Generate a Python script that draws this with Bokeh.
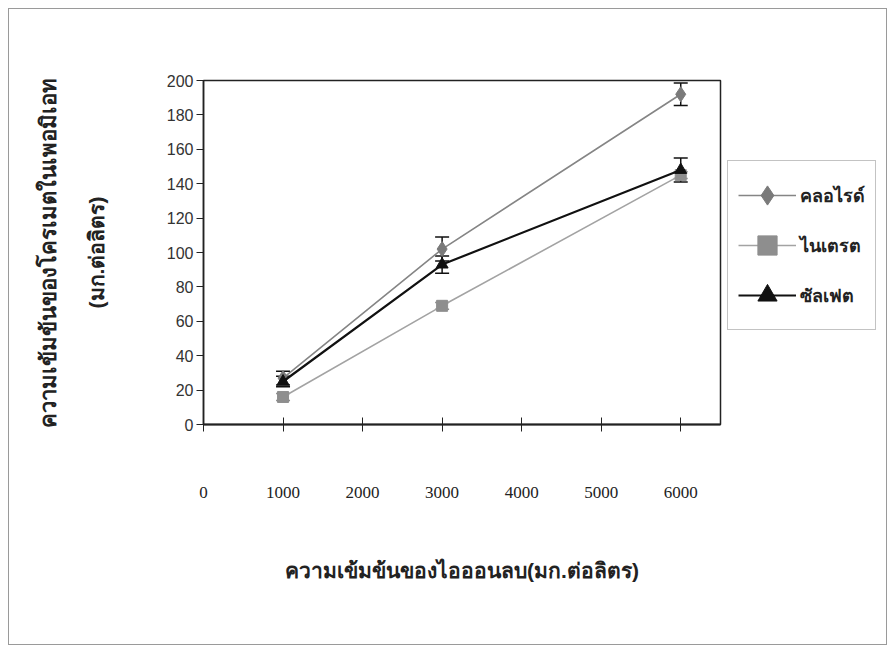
from bokeh.plotting import figure
from bokeh.layouts import row
from bokeh.models import (ColumnDataSource, Whisker, TeeHead, Legend, LegendItem,
                          LinearAxis, FixedTicker, Range1d)
from bokeh.embed import file_html
from bokeh.resources import INLINE

# ---- data ----
conc = [1000, 3000, 6000]
chloride = [27, 102, 192]
chloride_err = [4, 7, 6.5]
nitrate = [16, 69, 145]
nitrate_err = [2, 2, 2]
sulfate = [25, 93, 148]
sulfate_err = [3, 5, 7]
series_names = ["คลอไรด์", "ไนเตรต", "ซัลเฟต"]
x_ticks = [0, 1000, 2000, 3000, 4000, 5000, 6000]
y_ticks = [0, 20, 40, 60, 80, 100, 120, 140, 160, 180, 200]
x_title = "ความเข้มข้นของไอออนลบ(มก.ต่อลิตร)"
y_title_1 = "ความเข้มข้นของโครเมตในเพอมิเอท"
y_title_2 = "(มก.ต่อลิตร)"

THAI = "sans-serif"

p = figure(width=713, height=635, x_range=Range1d(0, 6500), y_range=Range1d(0, 200),
           output_backend="svg", toolbar_location=None,
           min_border_left=194, min_border_right=2, min_border_top=71, min_border_bottom=220)
p.background_fill_color = "white"
p.border_fill_color = "white"
p.outline_line_color = "#222222"
p.outline_line_width = 1.5
p.xgrid.visible = False
p.ygrid.visible = False

# x axis
xa = p.xaxis[0]
xa.ticker = FixedTicker(ticks=x_ticks)
xa.major_tick_in = 7
xa.major_tick_out = 7
xa.minor_tick_line_color = None
xa.major_label_standoff = 55
xa.major_label_text_font = "serif"
xa.major_label_text_font_size = "17px"
xa.major_label_text_color = "#222222"
xa.axis_line_width = 2
xa.axis_line_color = "#222222"
xa.major_tick_line_color = "#222222"
xa.axis_label = x_title
xa.axis_label_standoff = 58
xa.axis_label_text_font = THAI
xa.axis_label_text_font_size = "21px"
xa.axis_label_text_font_style = "bold"
xa.axis_label_text_color = "#222222"

# y axis
ya = p.yaxis[0]
ya.ticker = FixedTicker(ticks=y_ticks)
ya.major_tick_in = 0
ya.major_tick_out = 7
ya.minor_tick_line_color = None
ya.major_label_standoff = 3
ya.major_label_text_font = "'Liberation Sans', Arial, sans-serif"
ya.major_label_text_font_size = "16px"
ya.major_label_text_color = "#333333"
ya.axis_line_color = "#222222"
ya.axis_line_width = 1.5
ya.major_tick_line_color = "#222222"
ya.axis_label = y_title_2
ya.axis_label_standoff = 56
ya.axis_label_text_font = THAI
ya.axis_label_text_font_size = "21px"
ya.axis_label_text_font_style = "bold"
ya.axis_label_text_color = "#222222"

ya2 = LinearAxis(ticker=FixedTicker(ticks=[]), axis_line_color=None,
                 major_tick_out=0, major_tick_in=0, minor_tick_out=0, minor_tick_in=0,
                 major_label_standoff=0, axis_label=y_title_1, axis_label_standoff=21,
                 axis_label_text_font=THAI, axis_label_text_font_size="22px",
                 axis_label_text_font_style="bold", axis_label_text_color="#222222")
p.add_layout(ya2, "left")

# legend-only figure to the right of the plot frame (its frame aligns with p's frame)
pl = figure(width=164, height=635, x_range=Range1d(0, 1), y_range=Range1d(0, 1),
            output_backend="svg", toolbar_location=None,
            min_border_left=0, min_border_right=0, min_border_top=0, min_border_bottom=0)
pl.axis.visible = False
pl.xgrid.visible = False
pl.ygrid.visible = False
pl.outline_line_color = None
pl.background_fill_color = "white"
pl.border_fill_color = "white"

# series
specs = [
    (chloride, chloride_err, "#858585", 1.6, "diamond", 15, "#7a7a7a", "#111111"),
    (nitrate, nitrate_err, "#a3a3a3", 1.6, "square", 11, "#8e8e8e", "#8e8e8e"),
    (sulfate, sulfate_err, "#111111", 2.2, "triangle", 12, "#111111", "#111111"),
]
items = []
for (vals, errs, lc, lw, mk, ms, mc, ec), name in zip(specs, series_names):
    src = ColumnDataSource(dict(x=conc, y=vals,
                                lo=[v - e for v, e in zip(vals, errs)],
                                hi=[v + e for v, e in zip(vals, errs)]))
    p.line("x", "y", source=src, line_color=lc, line_width=lw)
    p.scatter("x", "y", source=src, marker=mk, size=ms, fill_color=mc, line_color=mc)
    w = Whisker(base="x", lower="lo", upper="hi", source=src, line_color=ec, line_width=1.5,
                upper_head=TeeHead(size=14, line_color=ec, line_width=1.5),
                lower_head=TeeHead(size=14, line_color=ec, line_width=1.5))
    p.add_layout(w)
    # legend proxies: same data, but far outside the legend figure's 0..1 ranges (invisible)
    ln2 = pl.line("x", "y", source=src, line_color=lc, line_width=lw)
    sc2 = pl.scatter("x", "y", source=src, marker=mk, size=ms - 4, fill_color=mc, line_color=mc)
    items.append(LegendItem(label=name, renderers=[ln2, sc2]))

legend = Legend(items=items, location=(5, 94), orientation="vertical",
                padding=10, spacing=2, margin=0,
                glyph_width=58, glyph_height=48, label_height=48, label_standoff=4,
                label_text_font=THAI, label_text_font_size="18px",
                label_text_font_style="bold", label_text_color="#222222",
                border_line_color="#888888", border_line_width=1.2,
                background_fill_color="white", background_fill_alpha=1.0)
pl.add_layout(legend, "center")

layout = row(p, pl, margin=(8, 8, 8, 8), styles={"border": "1px solid #9a9a9a"})

open("out.html", "w").write(file_html(layout, INLINE))
